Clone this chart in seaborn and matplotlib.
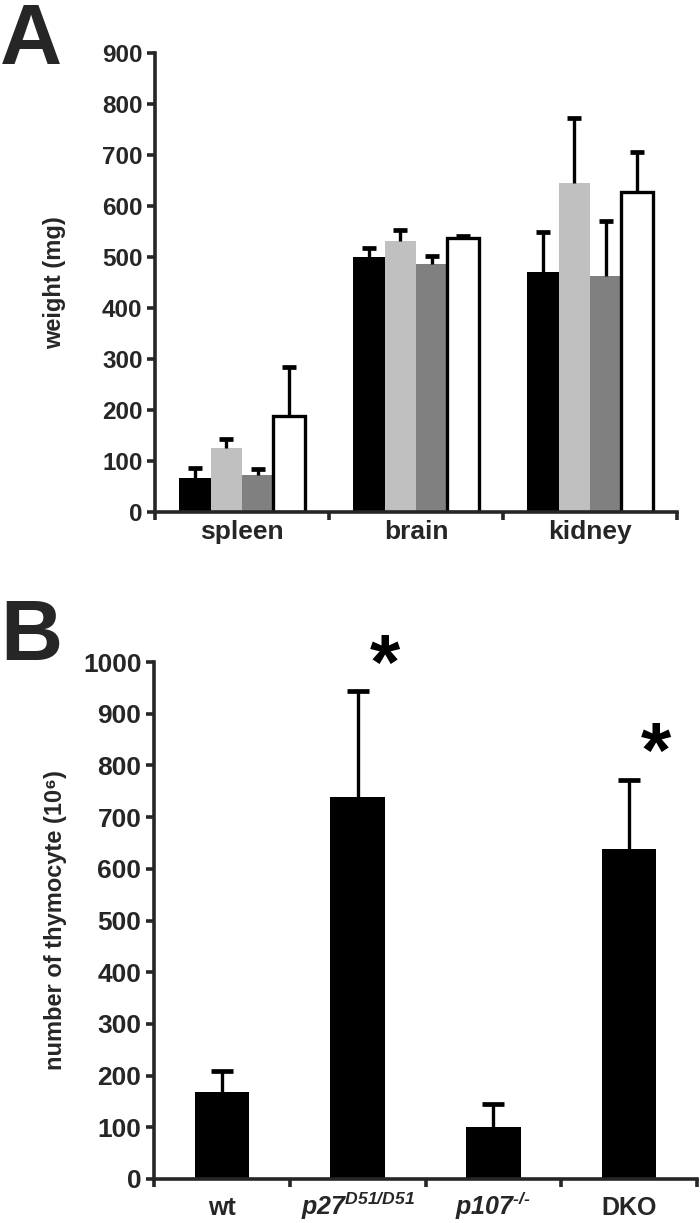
import numpy as np
import pandas as pd
import matplotlib
matplotlib.use("Agg")
import matplotlib.pyplot as plt
import seaborn as sns
from matplotlib.ticker import FixedLocator

# ---------------- data ----------------
organs = ["spleen", "brain", "kidney"]
genotypes = ["wt", "p27D51/D51", "p107-/-", "DKO"]
wt_weight = [67, 500, 470]
p27_weight = [126, 532, 645]
p107_weight = [72, 487, 463]
dko_weight = [188, 537, 627]
wt_err = [20, 18, 80]
p27_err = [17, 21, 128]
p107_err = [12, 15, 107]
dko_err = [96, 5, 78]
bar_colors = ["#000000", "#c0c0c0", "#808080", "#ffffff"]

b_labels = ["wt", r"$p27^{D51/D51}$", "$p107^{\u2010/\u2010}$", "DKO"]
thymocytes = [168, 738, 100, 639]
thymo_err = [40, 205, 46, 133]
significant = [False, True, False, True]

# ---------------- style ----------------
sns.set_theme(style="ticks")
plt.rcParams["font.family"] = ["Liberation Sans", "DejaVu Sans"]
plt.rcParams["font.weight"] = "bold"
plt.rcParams["mathtext.fontset"] = "custom"
plt.rcParams["mathtext.rm"] = "Liberation Sans:bold:italic"
plt.rcParams["mathtext.it"] = "Liberation Sans:bold:italic"
plt.rcParams["mathtext.bf"] = "Liberation Sans:bold:italic"
plt.rcParams["axes.linewidth"] = 2.6

W, H = 700, 1223
fig = plt.figure(figsize=(W / 100, H / 100), dpi=100)

def px_axes(l, r, top, bottom):
    return fig.add_axes([l / W, 1 - bottom / H, (r - l) / W, (bottom - top) / H])

ax1 = px_axes(155, 677, 53, 512)
ax2 = px_axes(154, 697, 662, 1179)

def upper_errorbar(ax, xs, ys, es, capsize, capthick):
    _, caps, _ = ax.errorbar(xs, ys, yerr=[np.zeros(len(ys)), es], fmt="none",
                             ecolor="black", elinewidth=2.4, capsize=capsize,
                             capthick=capthick, zorder=1)
    for c in caps:
        if np.allclose(np.asarray(c.get_ydata(), float), np.asarray(ys, float)):
            c.set_visible(False)

# ---------------- panel A ----------------
rows = []
errs = {}
for g, vals, es in zip(genotypes, [wt_weight, p27_weight, p107_weight, dko_weight],
                       [wt_err, p27_err, p107_err, dko_err]):
    for o, v in zip(organs, vals):
        rows.append({"organ": o, "genotype": g, "weight": v})
    errs[g] = es
dfA = pd.DataFrame(rows)
sns.barplot(data=dfA, x="organ", y="weight", hue="genotype", order=organs,
            hue_order=genotypes, palette=bar_colors, errorbar=None, width=0.72,
            saturation=1, linewidth=0, ax=ax1, legend=False)
for g, cont in zip(genotypes, ax1.containers):
    xs, ys = [], []
    for bar in cont:
        xs.append(bar.get_x() + bar.get_width() / 2)
        ys.append(bar.get_height())
        if g == "DKO":
            bar.set_edgecolor("black")
            bar.set_linewidth(2.4)
    upper_errorbar(ax1, xs, ys, errs[g], 5, 3.4)

ax1.set_ylim(0, 900)
ax1.set_xlim(-0.5, len(organs) - 0.5)
ax1.set_yticks(range(0, 901, 100))
ax1.set_ylabel("weight (mg)", fontsize=17, fontweight="bold")
ax1.yaxis.set_label_coords(-0.17, 0.5)
ax1.set_xlabel("")

# ---------------- panel B ----------------
dfB = pd.DataFrame({"genotype": b_labels, "thymocytes": thymocytes})
sns.barplot(data=dfB, x="genotype", y="thymocytes", order=b_labels, color="black",
            saturation=1, errorbar=None, width=0.4, linewidth=0, ax=ax2)
xsB = [bar.get_x() + bar.get_width() / 2 for bar in ax2.containers[0]]
upper_errorbar(ax2, xsB, thymocytes, thymo_err, 8, 3.4)
for x, v, e, s in zip(xsB, thymocytes, thymo_err, significant):
    if s:
        ax2.text(x + 0.2, v + e + 45, "*", ha="center", va="center",
                 fontsize=56, fontweight="heavy", color="black")
ax2.set_ylim(0, 1000)
ax2.set_xlim(-0.5, len(b_labels) - 0.5)
ax2.set_yticks(range(0, 1001, 100))
ax2.set_ylabel("number of thymocyte (10\u2076)", fontsize=17, fontweight="bold")
ax2.yaxis.set_label_coords(-0.16, 0.5)
ax2.set_xlabel("")

# ---------------- shared axis styling ----------------
for ax, n, xfs, yfs, xpad in [(ax1, len(organs), 19, 17.5, 6), (ax2, len(b_labels), 18, 19, 26)]:
    sns.despine(ax=ax)
    ax.spines["left"].set_linewidth(2.6)
    ax.spines["bottom"].set_linewidth(2.6)
    ax.xaxis.set_minor_locator(FixedLocator(np.arange(-0.5, n, 1.0)))
    ax.tick_params(axis="x", which="major", length=0, pad=xpad, labelsize=xfs)
    ax.tick_params(axis="x", which="minor", length=6, width=2.6, direction="out")
    ax.tick_params(axis="y", which="major", length=6, width=2.6, direction="out",
                   pad=3, labelsize=yfs)
    for lab in ax.get_yticklabels() + ax.get_xticklabels():
        lab.set_fontweight("bold")
    ax.set_facecolor("white")

for lab in ax2.get_yticklabels():
    lab.set_family(["Liberation Sans Narrow", "Liberation Sans"])
for lab in ax2.get_xticklabels():
    lab.set_verticalalignment("baseline")

fig.text(0 / W, 1 - 2 / H, "A", fontsize=62, fontweight="heavy", ha="left", va="top")
fig.text(0 / W, 1 - 598 / H, "B", fontsize=62, fontweight="heavy", ha="left", va="top")

fig.savefig("out.png", dpi=100, facecolor="white")
